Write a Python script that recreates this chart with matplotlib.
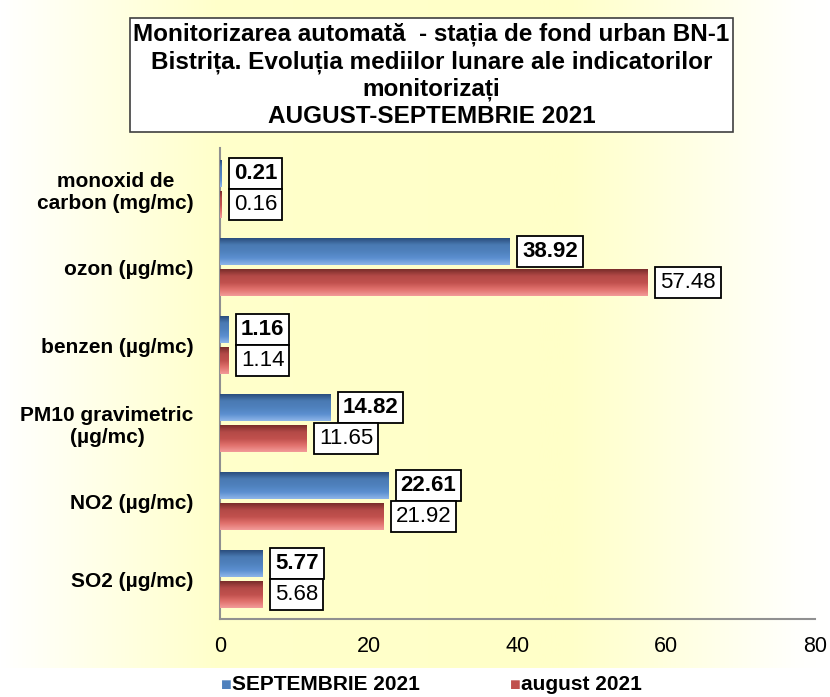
import matplotlib
matplotlib.use("Agg")
import matplotlib.pyplot as plt
import numpy as np
from matplotlib.colors import LinearSegmentedColormap

plt.rcParams['font.family'] = ['Liberation Sans', 'DejaVu Sans']

categories = ['monoxid de\ncarbon (mg/mc)', 'ozon (µg/mc)', 'benzen (µg/mc)',
              'PM10 gravimetric\n(µg/mc)', 'NO2 (µg/mc)', 'SO2 (µg/mc)']
septembrie = [0.21, 38.92, 1.16, 14.82, 22.61, 5.77]
august = [0.16, 57.48, 1.14, 11.65, 21.92, 5.68]
series_names = ['SEPTEMBRIE 2021', 'august 2021']
xticks = [0, 20, 40, 60, 80]

title = ('Monitorizarea automată  - stația de fond urban BN-1\n'
         'Bistrița. Evoluția mediilor lunare ale indicatorilor\n'
         'monitorizați\nAUGUST-SEPTEMBRIE 2021')

fig = plt.figure(figsize=(8.3, 6.97), dpi=100)
fig.patch.set_facecolor('white')

# background gradient (white -> pale yellow -> white)
bg = fig.add_axes([0, 0.042, 1, 0.958], zorder=-10)
grad = np.interp(np.linspace(0, 1, 400), [0, 0.26, 0.68, 0.96, 1.0], [0, 0.95, 1, 0.05, 0])
bg_cmap = LinearSegmentedColormap.from_list('bg', ['#ffffff', '#ffffc8'])
bg.imshow(grad[np.newaxis, :], aspect='auto', cmap=bg_cmap, extent=[0, 1, 0, 1], vmin=0, vmax=1)
bg.axis('off')

ax = fig.add_axes([0.265, 0.112, 0.717, 0.676])
ax.set_facecolor('none')

n = len(categories)
y = np.arange(n)[::-1]
h = 0.345
off = 0.2

blue_cmap = LinearSegmentedColormap.from_list('b', ['#8db4e8', '#5b8fd0', '#4f81bd', '#4a7ab3', '#2b4f7e'])
red_cmap = LinearSegmentedColormap.from_list('r', ['#f29a98', '#e0706c', '#c0504d', '#b44a47', '#7a2d2b'])

b1 = ax.barh(y + off, septembrie, height=h, color='#4f81bd', zorder=2)
b2 = ax.barh(y - off, august, height=h, color='#c0504d', zorder=2)

# bevel-like shading on each bar
for bars, cm in [(b1, blue_cmap), (b2, red_cmap)]:
    for r in bars:
        x0, y0 = r.get_x(), r.get_y()
        w, hh = r.get_width(), r.get_height()
        im = ax.imshow(np.linspace(0, 1, 50)[:, np.newaxis], aspect='auto', cmap=cm,
                       extent=[x0, x0 + w, y0 + hh, y0], zorder=3, interpolation='bilinear')
        im.set_clip_path(r)

for vals, bold in [(septembrie, True), (august, False)]:
    pos = y + off if bold else y - off
    for v, yy in zip(vals, pos):
        ax.annotate(f'{v:.2f}', xy=(v, yy), xytext=(9, 0), textcoords='offset points',
                    ha='left', va='center', fontsize=16,
                    fontweight='bold' if bold else 'normal',
                    bbox=dict(boxstyle='square,pad=0.22', fc='white', ec='black', lw=1.3),
                    zorder=5)

ax.set_xlim(0, 80)
ax.set_ylim(-0.51, n - 1 + 0.53)
ax.set_xticks(xticks)
ax.set_xticklabels([str(t) for t in xticks], fontsize=15.5)
ax.set_yticks(y)
ax.set_yticklabels(categories, fontsize=15, fontweight='bold', multialignment='center')
ax.tick_params(axis='y', length=0, pad=19)
ax.tick_params(axis='x', length=0, pad=12)
for s in ['top', 'right']:
    ax.spines[s].set_visible(False)
ax.spines['left'].set_color('#909090')
ax.spines['bottom'].set_color('#909090')
ax.spines['left'].set_linewidth(1.5)
ax.spines['bottom'].set_linewidth(1.5)

fig.text(0.52, 0.892, title, ha='center', va='center', fontsize=17.5, fontweight='bold',
         linespacing=1.22,
         bbox=dict(boxstyle='square,pad=0.15', fc='white', ec='#404040', lw=1.2))

fig.text(0.266, 0.01, '■', color='#4f81bd', fontsize=13, va='baseline', ha='left')
fig.text(0.28, 0.01, series_names[0], fontsize=15, fontweight='bold', va='baseline', ha='left')
fig.text(0.615, 0.01, '■', color='#c0504d', fontsize=13, va='baseline', ha='left')
fig.text(0.628, 0.01, series_names[1], fontsize=15, fontweight='bold', va='baseline', ha='left')

fig.savefig('out.png', dpi=100)
